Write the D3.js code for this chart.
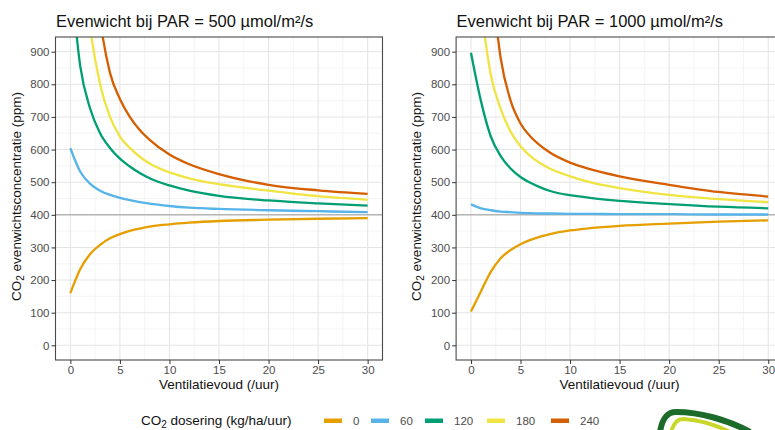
<!DOCTYPE html>
<html>
<head>
<meta charset="utf-8">
<script src="https://cdn.jsdelivr.net/npm/d3@7"></script>
<style>
  html, body { margin: 0; padding: 0; background: #fff; }
  svg { display: block; font-family: "Liberation Sans", Arial, sans-serif; }
</style>
</head>
<body>
<svg id="chart" width="775" height="430"></svg>
<script>
// ---------------- data ----------------
const ventilation = [0, 1, 2, 3, 4, 5, 6, 7, 8, 10, 12, 15, 20, 25, 30];
const doses = ["0", "60", "120", "180", "240"];
const doseColors = ["#E69F00", "#56B4E9", "#009E73", "#F0E442", "#D55E00"];

// PAR = 500
const par500_dose0   = [160, 234, 280, 308, 328, 341, 351, 358, 364, 371, 376, 381, 385, 388, 390];
const par500_dose60  = [604, 532, 495, 474, 461, 452, 445, 439, 434, 427, 422, 418, 414, 411, 408];
const par500_dose120 = [1150, 855, 725, 650, 605, 572, 548, 528, 512, 490, 474, 458, 444, 435, 428];
const par500_dose180 = [2000, 1300, 975, 800, 700, 640, 605, 578, 557, 530, 512, 494, 474, 457, 446];
const par500_dose240 = [3000, 1800, 1300, 1000, 835, 755, 700, 660, 630, 585, 555, 525, 492, 475, 464];

// PAR = 1000
const par1000_dose0   = [104, 165, 225, 267, 292, 310, 323, 333, 341, 352, 359, 366, 373, 379, 383];
const par1000_dose60  = [432, 420, 414, 410, 408, 406, 405, 404, 404, 403, 403, 402, 402, 401, 401];
const par1000_dose120 = [897, 750, 640, 580, 542, 516, 498, 484, 473, 460, 452, 443, 433, 425, 420];
const par1000_dose180 = [1400, 1050, 830, 725, 655, 610, 580, 558, 541, 518, 500, 482, 461, 448, 439];
const par1000_dose240 = [2200, 1500, 1150, 880, 750, 680, 640, 612, 590, 560, 540, 518, 492, 470, 456];

const xTicks = [0, 5, 10, 15, 20, 25, 30];
const xMinor = [2.5, 7.5, 12.5, 17.5, 22.5, 27.5];
const yTicks = [0, 100, 200, 300, 400, 500, 600, 700, 800, 900];
const yMinor = [50, 150, 250, 350, 450, 550, 650, 750, 850];
const referenceLevel = 400;

const panels = [
  { title: "Evenwicht bij PAR = 500 µmol/m²/s",
    series: [par500_dose0, par500_dose60, par500_dose120, par500_dose180, par500_dose240],
    left: 55.5, right: 382.5 },
  { title: "Evenwicht bij PAR = 1000 µmol/m²/s",
    series: [par1000_dose0, par1000_dose60, par1000_dose120, par1000_dose180, par1000_dose240],
    left: 456.1, right: 783.1 }
];

// ---------------- drawing ----------------
const svg = d3.select("#chart");
const plotTop = 37, plotBottom = 360;
const defs = svg.append("defs");

panels.forEach((p, i) => {
  const x = d3.scaleLinear().domain([-1.5, 31.5]).range([p.left, p.right]);
  const y = d3.scaleLinear().domain([-45, 945]).range([plotBottom, plotTop]);
  const g = svg.append("g");

  defs.append("clipPath").attr("id", "clip" + i)
    .append("rect").attr("x", p.left).attr("y", plotTop)
    .attr("width", p.right - p.left).attr("height", plotBottom - plotTop);

  g.append("rect").attr("x", p.left).attr("y", plotTop)
    .attr("width", p.right - p.left).attr("height", plotBottom - plotTop)
    .attr("fill", "#fff");

  // minor grid
  g.selectAll(".ymin").data(yMinor).enter().append("line")
    .attr("x1", p.left).attr("x2", p.right)
    .attr("y1", d => y(d)).attr("y2", d => y(d))
    .attr("stroke", "#efefef").attr("stroke-width", 0.7);
  g.selectAll(".xmin").data(xMinor).enter().append("line")
    .attr("y1", plotTop).attr("y2", plotBottom)
    .attr("x1", d => x(d)).attr("x2", d => x(d))
    .attr("stroke", "#efefef").attr("stroke-width", 0.7);
  // major grid
  g.selectAll(".ymaj").data(yTicks).enter().append("line")
    .attr("x1", p.left).attr("x2", p.right)
    .attr("y1", d => y(d)).attr("y2", d => y(d))
    .attr("stroke", "#e5e5e5").attr("stroke-width", 1.1);
  g.selectAll(".xmaj").data(xTicks).enter().append("line")
    .attr("y1", plotTop).attr("y2", plotBottom)
    .attr("x1", d => x(d)).attr("x2", d => x(d))
    .attr("stroke", "#e5e5e5").attr("stroke-width", 1.1);

  // reference line at 400
  g.append("line")
    .attr("x1", p.left).attr("x2", p.right)
    .attr("y1", y(referenceLevel)).attr("y2", y(referenceLevel))
    .attr("stroke", "#b5b5b5").attr("stroke-width", 1.5);

  // data lines
  const line = d3.line()
    .x((d, j) => x(ventilation[j]))
    .y(d => y(d))
    .curve(d3.curveMonotoneX);
  const lg = g.append("g").attr("clip-path", `url(#clip${i})`);
  p.series.forEach((s, k) => {
    lg.append("path").datum(s)
      .attr("d", line)
      .attr("fill", "none")
      .attr("stroke", doseColors[k])
      .attr("stroke-width", 2.3)
      .attr("stroke-linejoin", "round");
  });

  // panel border
  g.append("rect").attr("x", p.left).attr("y", plotTop)
    .attr("width", p.right - p.left).attr("height", plotBottom - plotTop)
    .attr("fill", "none").attr("stroke", "#4a4a4a").attr("stroke-width", 1.1);

  // axes
  const yAxis = d3.axisLeft(y).tickValues(yTicks).tickSize(4).tickPadding(2);
  const ya = g.append("g").attr("transform", `translate(${p.left},0)`).call(yAxis);
  const xAxis = d3.axisBottom(x).tickValues(xTicks).tickSize(4).tickPadding(2);
  const xa = g.append("g").attr("transform", `translate(0,${plotBottom})`).call(xAxis);
  [ya, xa].forEach(a => {
    a.select(".domain").remove();
    a.selectAll(".tick line").attr("stroke", "#333");
    a.selectAll(".tick text").attr("fill", "#4d4d4d")
      .style("font-size", "11.5px")
      .style("font-family", '"Liberation Sans", Arial, sans-serif');
  });

  // title
  svg.append("text").attr("x", p.left + 0.5).attr("y", 27)
    .attr("fill", "#111").style("font-size", "16.5px")
    .text(p.title);

  // x-axis title
  svg.append("text").attr("x", (x(0) + x(30)) / 2).attr("y", 389)
    .attr("text-anchor", "middle").attr("fill", "#111")
    .style("font-size", "13.5px")
    .text("Ventilatievoud (/uur)");

  // y-axis title
  const yt = svg.append("text")
    .attr("transform", `translate(${p.left - 35},${(plotTop + plotBottom) / 2 - 2}) rotate(-90)`)
    .attr("text-anchor", "middle").attr("fill", "#111")
    .style("font-size", "13.5px");
  yt.append("tspan").text("CO");
  yt.append("tspan").attr("dy", 3).style("font-size", "10px").text("2");
  yt.append("tspan").attr("dy", -3).text(" evenwichtsconcentratie (ppm)");
});

// ---------------- legend ----------------
const leg = svg.append("g");
const lt = leg.append("text").attr("x", 141).attr("y", 425)
  .attr("fill", "#111").style("font-size", "13.5px");
lt.append("tspan").text("CO");
lt.append("tspan").attr("dy", 2.5).style("font-size", "10px").text("2");
lt.append("tspan").attr("dy", -2.5).text(" dosering (kg/ha/uur)");

const keyX = [324, 371, 425, 487, 551];
doses.forEach((d, k) => {
  leg.append("rect").attr("x", keyX[k]).attr("y", 418.5)
    .attr("width", 18).attr("height", 4.5)
    .attr("fill", doseColors[k]);
  leg.append("text").attr("x", keyX[k] + 29).attr("y", 425)
    .attr("fill", "#4d4d4d").style("font-size", "11.5px")
    .text(d);
});

// partial logo (bottom right corner)
const logo = svg.append("g");
logo.append("path")
  .attr("d", "M660,432 C662,420 666,412 676,412 C700,412 728,420 750,432")
  .attr("fill", "none").attr("stroke", "#1d6b2a").attr("stroke-width", 6);
logo.append("path")
  .attr("d", "M671,432 C673,425 676,419 683,419 C700,420 716,425 730,432")
  .attr("fill", "none").attr("stroke", "#c9d72a").attr("stroke-width", 4);
</script>
</body>
</html>
